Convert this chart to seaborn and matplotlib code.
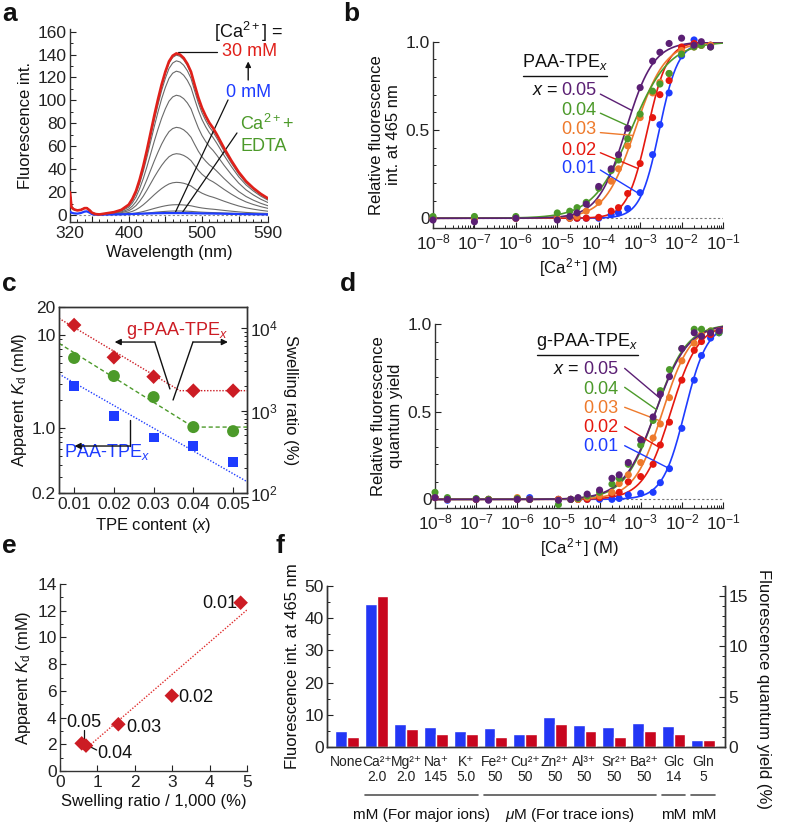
import numpy as np
import pandas as pd
import matplotlib
matplotlib.use("Agg")
import matplotlib.pyplot as plt
import seaborn as sns
from matplotlib.ticker import (MultipleLocator, FixedLocator, NullFormatter,
                               FixedFormatter, LogLocator)

# ---------------- panel a: emission spectra ----------------
wavelength = [320, 322, 325, 330, 335, 340, 343, 347, 350, 355, 360,
              370, 380, 390, 400, 405, 410, 415, 420, 425, 430, 435, 440, 445,
              450, 455, 460, 465, 470, 475, 480, 485, 490, 495, 500, 505, 510,
              515, 520, 525, 530, 540, 550, 560, 570, 580, 590]
# scatter / Raman part shared by all spectra
background = [20, 7, 5, 4, 4.5, 6, 6, 4, 2, 0.8, 0.5,
              0.5, 0.5, 0.5, 0.5, 0.5, 0.5, 0.5, 0.5, 0.5, 0.5, 0.5, 0.5, 0.5,
              0.5, 0.5, 0.5, 0.5, 0.5, 0.5, 0.5, 0.5, 0.5, 0.5, 0.5, 0.5, 0.5,
              0.5, 0.5, 0.5, 0.5, 0.5, 0.5, 0.5, 0.5, 0.5, 0.5]
# emission band at [Ca2+] = 30 mM
emission_30mM = [0, 0, 0, 0, 0, 0, 0, 0, 0, 0, 0,
                 1.0, 2.0, 4.0, 8.5, 13.5, 20.5, 30.5, 42.5, 56.5, 71.5, 86.5,
                 100.5, 113.5, 124.5, 133.5, 138.5, 140.5, 139.5, 136.5, 131.5,
                 124.5, 113, 102, 93, 86, 80, 75.5, 70, 64, 58,
                 47, 37, 29, 23, 18, 14]
grey_peaks = [139, 134, 125, 104, 76, 53, 28, 8.5, 3]
spec_0mM = [3, 2, 1.5, 1.2, 1.8, 3, 3.2, 2, 0.8, 0.3, 0.3,
            0.4, 0.5, 0.6, 0.8, 0.9, 1.0, 1.1, 1.2, 1.3, 1.4, 1.5, 1.6, 1.6,
            1.7, 1.7, 1.7, 1.7, 1.7, 1.7, 1.6, 1.6, 1.5, 1.5, 1.4, 1.4, 1.3,
            1.3, 1.2, 1.2, 1.1, 1.0, 0.9, 0.8, 0.7, 0.6, 0.5]

# ---------------- panels b, d: Ca2+ titrations ----------------
tpe_labels = ["0.01", "0.02", "0.03", "0.04", "0.05"]
conc_b = [1e-8, 1e-7, 1e-6, 1e-5, 2e-5, 3e-5, 5e-5, 1e-4, 2e-4, 3e-4, 5e-4,
          1e-3, 2e-3, 3e-3, 5e-3, 1e-2, 2e-2, 3e-2, 5e-2]
b_001 = [0.0, 0.0, 0.0, 0.0, 0.0, 0.0, 0.0, 0.0, 0.02, 0.03, 0.055, 0.145,
         0.36, 0.53, 0.71, 0.92, 1.01, 0.98, 0.98]
b_002 = [0.0, 0.0, 0.0, 0.0, 0.0, 0.0, 0.0, 0.005, 0.04, 0.06, 0.14, 0.31,
         0.57, 0.70, 0.78, 0.97, 0.99, 0.98, 0.98]
b_003 = [0.0, 0.0, 0.0, 0.0, 0.0, 0.01, 0.04, 0.09, 0.21, 0.28, 0.41, 0.57,
         0.71, 0.77, 0.82, 0.95, 0.97, 0.98, 0.98]
b_004 = [0.01, 0.01, 0.01, 0.03, 0.04, 0.06, 0.09, 0.17, 0.27, 0.33, 0.45,
         0.59, 0.72, 0.76, 0.82, 0.93, 0.97, 0.98, 0.97]
b_005 = [-0.01, -0.02, 0.0, -0.01, 0.01, 0.03, 0.08, 0.18, 0.28, 0.36, 0.51,
         0.74, 0.89, 0.94, 0.99, 1.02, 0.98, 1.00, 0.97]
# Hill fit parameters (midpoint in M, slope)
hill_k_b = [2.9e-3, 1.5e-3, 7.5e-4, 6.0e-4, 4.5e-4]
hill_n_b = [1.9, 1.8, 1.2, 0.95, 1.3]

conc_d = [1e-8, 2e-8, 1e-7, 2e-7, 1e-6, 2e-6, 1e-5, 2e-5, 3e-5, 5e-5, 1e-4,
          2e-4, 3e-4, 5e-4, 1e-3, 2e-3, 3e-3, 5e-3, 1e-2, 2e-2, 3e-2, 5e-2, 8e-2]
d_001 = [0.01, -0.005, 0.0, 0.0, 0.0, 0.01, 0.0, 0.0, 0.0, 0.0, 0.0, 0.0,
         0.005, 0.025, 0.034, 0.04, 0.095, 0.175, 0.405, 0.68, 0.82, 0.92, 0.95]
d_002 = [0.01, 0.0, 0.0, 0.0, 0.0, 0.0, 0.0, 0.0, 0.0, 0.0, 0.01, 0.03,
         0.04, 0.10, 0.13, 0.20, 0.31, 0.44, 0.68, 0.85, 0.90, 0.94, 0.96]
d_003 = [0.01, 0.0, 0.0, 0.0, 0.01, 0.0, 0.0, 0.0, 0.0, 0.01, 0.02, 0.04,
         0.09, 0.14, 0.21, 0.35, 0.43, 0.58, 0.79, 0.89, 0.94, 0.96, 0.96]
d_004 = [0.04, 0.01, 0.005, 0.0, 0.005, 0.0, -0.03, 0.0, 0.005, 0.02, 0.04,
         0.087, 0.12, 0.20, 0.31, 0.45, 0.62, 0.74, 0.86, 0.97, 0.97, 0.96, 0.95]
d_005 = [0.01, 0.0, 0.0, -0.005, 0.0, 0.0, -0.005, 0.0, 0.01, 0.03, 0.053,
         0.12, 0.14, 0.21, 0.34, 0.47, 0.60, 0.70, 0.86, 0.95, 0.93, 0.95, 0.96]
hill_k_d = [11.8e-3, 5.4e-3, 3.4e-3, 2.3e-3, 2.3e-3]
hill_n_d = [1.6, 1.3, 1.25, 1.15, 1.1]

# ---------------- panel c ----------------
tpe_x = [0.01, 0.02, 0.03, 0.04, 0.05]
kd_gpaa = [12.8, 5.76, 3.56, 2.52, 2.52]
kd_paa = [2.83, 1.35, 0.79, 0.645, 0.43]
swelling = [4340, 2620, 1455, 630, 562]
# dashed guide lines as drawn (x, value)
guide_x_gpaa = [0.0062, 0.0366, 0.0535]
guide_gpaa = [15.1, 2.52, 2.52]
guide_x_swell = [0.0062, 0.04, 0.0535]
guide_swell = [6530, 630, 630]
guide_x_paa = [0.0062, 0.0535]
guide_paa = [3.8, 0.265]

# ---------------- panel e ----------------
swell_e = [4.83, 2.99, 1.56, 0.695, 0.58]
kd_e = [12.6, 5.64, 3.5, 1.9, 2.07]

# ---------------- panel f ----------------
ions = ["None", "Ca²⁺", "Mg²⁺", "Na⁺", "K⁺", "Fe²⁺", "Cu²⁺", "Zn²⁺", "Al³⁺",
        "Sr²⁺", "Ba²⁺", "Glc", "Gln"]
ion_conc = ["", "2.0", "2.0", "145", "5.0", "50", "50", "50", "50", "50",
            "50", "14", "5"]
fl_int = [4.9, 44.5, 7.05, 6.3, 5.1, 6.0, 4.15, 9.2, 6.7, 6.3, 7.6, 6.5, 2.3]
fl_qy = [0.96, 15.0, 1.82, 1.33, 1.33, 0.96, 1.33, 2.32, 1.6, 0.96, 1.6,
         1.33, 0.67]

# ---------------- style ----------------
sns.set_theme(style="ticks")
plt.rcParams["font.family"] = ["Liberation Sans", "DejaVu Sans"]
plt.rcParams.update({
    "mathtext.fontset": "custom",
    "mathtext.rm": "Liberation Sans",
    "mathtext.it": "Liberation Sans:italic",
    "mathtext.bf": "Liberation Sans:bold",
    "mathtext.sf": "Liberation Sans",
    "font.size": 12,
    "axes.labelsize": 12,
    "xtick.labelsize": 12.5,
    "ytick.labelsize": 12.5,
    "xtick.direction": "in",
    "ytick.direction": "in",
    "xtick.major.size": 4,
    "ytick.major.size": 4,
    "xtick.minor.size": 2.5,
    "ytick.minor.size": 2.5,
    "xtick.major.width": 0.8,
    "ytick.major.width": 0.8,
    "xtick.minor.width": 0.7,
    "ytick.minor.width": 0.7,
    "xtick.major.pad": 3,
    "ytick.major.pad": 2.5,
    "xtick.color": "#222222",
    "ytick.color": "#222222",
    "axes.edgecolor": "#333333",
    "axes.linewidth": 1.0,
    "axes.labelpad": 3,
    "text.color": "#111111",
    "axes.labelcolor": "#111111",
})

PURPLE = "#5b1f74"
GREEN = "#4c9a2a"
ORANGE = "#ee7a2c"
RED = "#e5180f"
BLUE = "#1e3cff"
CRIMSON = "#cc1c24"
BAR_BLUE = "#2336f5"
BAR_RED = "#c8061e"
tpe_colors = [BLUE, RED, ORANGE, GREEN, PURPLE]

W, H = 787, 824
fig = plt.figure(figsize=(W / 100, H / 100), dpi=100)


def add_panel(left, top, right, bottom):
    return fig.add_axes([left / W, 1 - bottom / H, (right - left) / W,
                         (bottom - top) / H])


def letter(x, y, s):
    fig.text(x / W, 1 - y / H, s, fontsize=19, fontweight="bold",
             va="top", ha="left")


# ================= a =================
ax_a = add_panel(70, 29, 268, 222)
emission = np.array(emission_30mM)
bg = np.array(background)
for peak in grey_peaks:
    sns.lineplot(x=wavelength, y=bg + emission * peak / emission.max(),
                 color="#6a6a6a", lw=0.8, ax=ax_a)
sns.lineplot(x=wavelength, y=spec_0mM, color=BLUE, lw=1.6, ax=ax_a, zorder=4)
sns.lineplot(x=wavelength, y=bg + emission, color="#e0201a", lw=1.9,
             ax=ax_a, zorder=5)
ax_a.axhline(0, color="#888888", lw=0.8, ls=(0, (2, 2)), zorder=0)
ax_a.set_xlim(320, 590)
ax_a.set_ylim(-6.1, 162.3)
ax_a.xaxis.set_major_locator(FixedLocator([320, 350, 400, 450, 500, 550, 590]))
ax_a.xaxis.set_major_formatter(FixedFormatter(["320", "", "400", "", "500", "", "590"]))
ax_a.xaxis.set_minor_locator(MultipleLocator(10))
ax_a.yaxis.set_major_locator(MultipleLocator(20))
ax_a.yaxis.set_minor_locator(MultipleLocator(10))
ax_a.set_xlabel("Wavelength (nm)")
ax_a.set_ylabel("Fluorescence int.")
sns.despine(ax=ax_a)
ax_a.text(564, 159.7, "[Ca$^{2+}$] =", ha="center", va="center", fontsize=13,
          clip_on=False)
ax_a.text(564.8, 142.3, "30 mM", ha="center", va="center", fontsize=13,
          color="#e0201a", clip_on=False)
ax_a.annotate("", xy=(563, 134), xytext=(563, 117.8),
              arrowprops=dict(arrowstyle="-|>", color="#111111", lw=1.0,
                              mutation_scale=8, shrinkA=0, shrinkB=0))
ax_a.text(563.4, 106.5, "0 mM", ha="center", va="center", fontsize=13,
          color=BLUE, clip_on=False)
ax_a.text(552, 79.4, "Ca$^{2+}$+", ha="left", va="center", fontsize=13,
          color=GREEN, clip_on=False)
ax_a.text(552, 60.2, "EDTA", ha="left", va="center", fontsize=13,
          color=GREEN, clip_on=False)
ax_a.plot([467.3, 520.5], [142.3, 142.3], color="#111111", lw=0.9)
ax_a.plot([535.5, 463.2], [100.4, 1.7], color="#111111", lw=0.9)
ax_a.plot([547.7, 472.7], [71.6, 1.7], color="#111111", lw=0.9)


# ================= b, d =================
def titration(ax, conc, series, hill_k, hill_n, title, lay):
    conc_fit = np.logspace(-8, -1, 400)
    ax.axhline(0, color="#777777", lw=0.8, ls=(0, (2, 2)), zorder=0)
    for y, k, n, col in zip(series, hill_k, hill_n, tpe_colors):
        fit = conc_fit ** n / (k ** n + conc_fit ** n)
        sns.lineplot(x=conc_fit, y=fit, color=col, lw=1.2, ax=ax, zorder=2)
    for y, col in zip(series, tpe_colors):
        sns.scatterplot(x=conc, y=y, color=col, s=26, edgecolor="none",
                        ax=ax, zorder=3, clip_on=False)
    ax.set_xscale("log")
    ax.set_xlim(1e-8, 1e-1)
    ax.set_ylim(lay["ybot"], 1.0)
    ax.xaxis.set_major_locator(LogLocator(base=10, numticks=20))
    ax.xaxis.set_minor_locator(LogLocator(base=10, subs=np.arange(2, 10),
                                          numticks=20))
    ax.xaxis.set_minor_formatter(NullFormatter())
    ax.yaxis.set_major_locator(FixedLocator([0, 0.5, 1.0]))
    ax.yaxis.set_major_formatter(FixedFormatter(["0", "0.5", "1.0"]))
    ax.yaxis.set_minor_locator(MultipleLocator(0.1))
    ax.set_xlabel("[Ca$^{2+}$] (M)")
    sns.despine(ax=ax)
    # legend-like labels
    ax.text(10 ** lay["title"][0], lay["title"][1], title, ha="center",
            va="center", fontsize=13)
    ax.plot([10 ** lay["uline"][0], 10 ** lay["uline"][1]],
            [lay["uline"][2]] * 2, color="#111111", lw=1.0)
    ax.text(10 ** lay["eq_x"], lay["lab_y"][-1], "$x$ =", ha="right",
            va="center", fontsize=13)
    for i, col in enumerate(tpe_colors):
        ax.text(10 ** lay["val_x"], lay["lab_y"][i], tpe_labels[i], ha="left",
                va="center", fontsize=13, color=col)
        xe = 10 ** lay["end_x"][i]
        k, n = hill_k[i], hill_n[i]
        ye = xe ** n / (k ** n + xe ** n)
        ax.plot([10 ** lay["start_x"], xe], [lay["start_y"][i], ye],
                color=col, lw=1.0)


ax_b = add_panel(433, 41.7, 723, 228.3)
titration(ax_b, conc_b, [b_001, b_002, b_003, b_004, b_005], hill_k_b,
          hill_n_b, "PAA-TPE$_x$",
          dict(ybot=-0.057, title=(-4.82, 0.885), uline=(-5.835, -3.81, 0.806),
               eq_x=-4.968, val_x=-4.896,
               lab_y=[0.283, 0.383, 0.500, 0.613, 0.726],
               start_x=-3.96, start_y=[0.273, 0.371, 0.485, 0.595, 0.703],
               end_x=[-2.97, -3.05, -3.17, -3.197, -3.197]))
ax_b.set_ylabel("Relative fluorescence\nint. at 465 nm")

ax_d = add_panel(435, 324, 723, 508.3)
titration(ax_d, conc_d, [d_001, d_002, d_003, d_004, d_005], hill_k_d,
          hill_n_d, "g-PAA-TPE$_x$",
          dict(ybot=-0.051, title=(-4.30, 0.899), uline=(-5.53, -3.06, 0.823),
               eq_x=-4.48, val_x=-4.40,
               lab_y=[0.300, 0.408, 0.519, 0.629, 0.739],
               start_x=-3.39, start_y=[0.306, 0.414, 0.525, 0.639, 0.747],
               end_x=[-2.34, -2.555, -2.54, -2.62, -2.52]))
ax_d.set_ylabel("Relative fluorescence\nquantum yield")

# ================= c =================
ax_c = add_panel(59, 307, 247, 493)
ax_c2 = ax_c.twinx()
ax_c.set_yscale("log")
ax_c2.set_yscale("log")
sns.lineplot(x=guide_x_gpaa, y=guide_gpaa, color=CRIMSON, lw=1.0,
             ls=(0, (1, 1.2)), ax=ax_c, zorder=1)
sns.lineplot(x=guide_x_paa, y=guide_paa, color=BLUE, lw=1.0,
             ls=(0, (1, 1.2)), ax=ax_c, zorder=1)
sns.lineplot(x=guide_x_swell, y=guide_swell, color=GREEN, lw=1.0,
             ls=(0, (3, 2)), ax=ax_c2, zorder=1)
sns.scatterplot(x=tpe_x, y=kd_gpaa, marker="D", color=CRIMSON, s=55,
                edgecolor="none", ax=ax_c, zorder=3)
sns.scatterplot(x=tpe_x, y=kd_paa, marker="s", color=BLUE, s=50,
                edgecolor="none", ax=ax_c, zorder=3)
sns.scatterplot(x=tpe_x, y=swelling, marker="o", color=GREEN, s=75,
                edgecolor="none", ax=ax_c2, zorder=3)
ax_c.set_xlim(0.0062, 0.0535)
ax_c.set_ylim(0.2, 20)
ax_c2.set_ylim(100, 18000)
ax_c.xaxis.set_major_locator(FixedLocator(tpe_x))
ax_c.xaxis.set_major_formatter(FixedFormatter(tpe_labels))
ax_c.yaxis.set_major_locator(FixedLocator([0.2, 1, 10, 20]))
ax_c.yaxis.set_major_formatter(FixedFormatter(["0.2", "1.0", "10", "20"]))
ax_c.yaxis.set_minor_locator(LogLocator(base=10, subs=np.arange(2, 10)))
ax_c.yaxis.set_minor_formatter(NullFormatter())
ax_c2.yaxis.set_major_locator(LogLocator(base=10, numticks=10))
ax_c2.yaxis.set_minor_locator(LogLocator(base=10, subs=np.arange(2, 10),
                                         numticks=10))
ax_c2.yaxis.set_minor_formatter(NullFormatter())
ax_c.set_xlabel("TPE content ($x$)")
ax_c.set_ylabel("Apparent $K_\\mathrm{d}$ (mM)", labelpad=2)
ax_c2.set_ylabel("Swelling ratio (%)", rotation=270, labelpad=14)
ax_c.text(0.0359, 11.3, "g-PAA-TPE$_x$", color=CRIMSON, ha="center",
          va="center", fontsize=13)
ax_c.text(0.0182, 0.552, "PAA-TPE$_x$", color=BLUE, ha="center",
          va="center", fontsize=13)
arrow = dict(arrowstyle="-|>", color="#111111", lw=1.0, mutation_scale=9,
             shrinkA=0, shrinkB=0)
ax_c.plot([0.0341, 0.0303], [2.63, 8.4], color="#111111", lw=1.0)
ax_c.annotate("", xy=(0.0202, 8.4), xytext=(0.0303, 8.4), arrowprops=arrow)
ax_c.plot([0.0349, 0.0399], [2.0, 8.4], color="#111111", lw=1.0)
ax_c.annotate("", xy=(0.0487, 8.4), xytext=(0.0399, 8.4), arrowprops=arrow)
ax_c.plot([0.024, 0.024], [1.22, 0.64], color="#111111", lw=1.0)
ax_c.annotate("", xy=(0.0101, 0.64), xytext=(0.024, 0.64), arrowprops=arrow)

# ================= e =================
ax_e = add_panel(60, 584, 247, 771)
slope, icpt = np.polyfit(swell_e, kd_e, 1)
line_x = [swell_e[3], 5.0]
sns.lineplot(x=line_x, y=[slope * v + icpt for v in line_x], color="#e03030",
             lw=1.0, ls=(0, (1, 1.2)), ax=ax_e, zorder=1)
sns.scatterplot(x=swell_e, y=kd_e, marker="D", color=CRIMSON, s=55,
                edgecolor="none", ax=ax_e, zorder=3, clip_on=False)
ax_e.set_xlim(0, 5)
ax_e.set_ylim(0, 14)
ax_e.xaxis.set_major_locator(MultipleLocator(1))
ax_e.yaxis.set_major_locator(MultipleLocator(2))
ax_e.yaxis.set_minor_locator(MultipleLocator(1))
ax_e.set_xlabel("Swelling ratio / 1,000 (%)")
ax_e.set_ylabel("Apparent $K_\\mathrm{d}$ (mM)")
sns.despine(ax=ax_e)
ax_e.text(4.74, 12.55, "0.01", ha="right", va="center", fontsize=13)
ax_e.text(3.16, 5.48, "0.02", ha="left", va="center", fontsize=13)
ax_e.text(1.78, 3.24, "0.03", ha="left", va="center", fontsize=13)
ax_e.text(0.647, 3.64, "0.05", ha="center", va="center", fontsize=13)
ax_e.text(0.99, 1.32, "0.04", ha="left", va="center", fontsize=13)
ax_e.plot([0.642, 0.642], [3.07, 2.07], color="#111111", lw=0.9)
ax_e.plot([0.71, 0.98], [1.95, 1.57], color="#111111", lw=0.9)

# ================= f =================
ax_f = add_panel(327, 586, 725, 747)
df_int = pd.DataFrame({"ion": ions, "value": fl_int, "kind": "int"})
df_qy = pd.DataFrame({"ion": ions, "value": fl_qy, "kind": "qy"})
pal = {"int": BAR_BLUE, "qy": BAR_RED}
sns.barplot(data=df_int, x="ion", y="value", hue="kind", hue_order=["int", "qy"],
            order=ions, palette=pal, dodge=True, width=0.8, saturation=1,
            errorbar=None, legend=False, ax=ax_f)
ax_f2 = ax_f.twinx()
sns.barplot(data=df_qy, x="ion", y="value", hue="kind", hue_order=["int", "qy"],
            order=ions, palette=pal, dodge=True, width=0.8, saturation=1,
            errorbar=None, legend=False, ax=ax_f2)
ax_f.set_xlim(-0.67, 12.73)
ax_f.set_ylim(0, 50)
ax_f2.set_ylim(0, 16)
ax_f.set_xticks(range(len(ions)))
ax_f.set_xticklabels([f"{a}\n{b}" for a, b in zip(ions, ion_conc)],
                     fontsize=10, linespacing=1.1)
ax_f.tick_params(axis="x", length=0, pad=6)
ax_f.yaxis.set_major_locator(MultipleLocator(10))
ax_f.yaxis.set_minor_locator(MultipleLocator(5))
ax_f2.yaxis.set_major_locator(MultipleLocator(5))
ax_f2.yaxis.set_minor_locator(MultipleLocator(1))
ax_f.set_xlabel("")
ax_f2.set_xlabel("")
ax_f.set_ylabel("Fluorescence int. at 465 nm")
ax_f2.set_ylabel("Fluorescence quantum yield (%)", rotation=270)
ax_f2.yaxis.set_label_coords(1.115, 0.36)
for ax in (ax_f, ax_f2):
    ax.spines["top"].set_visible(False)

groups = [("mM (For major ions)", 1, 4), ("$\\mu$M (For trace ions)", 5, 10),
          ("mM", 11, 11), ("mM", 12, 12)]
tr = ax_f.get_xaxis_transform()
for name, i0, i1 in groups:
    ax_f.plot([i0 - 0.4, i1 + 0.4], [-0.3, -0.3], color="#555555", lw=1.2,
              transform=tr, clip_on=False)
    ax_f.text((i0 + i1) / 2, -0.425, name, transform=tr, ha="center",
              va="center", fontsize=11)

# panel letters
letter(2, 2, "a")
letter(343, 2, "b")
letter(2, 272, "c")
letter(340, 272, "d")
letter(2, 534, "e")
letter(276, 534, "f")

fig.savefig("out.png", dpi=100)
